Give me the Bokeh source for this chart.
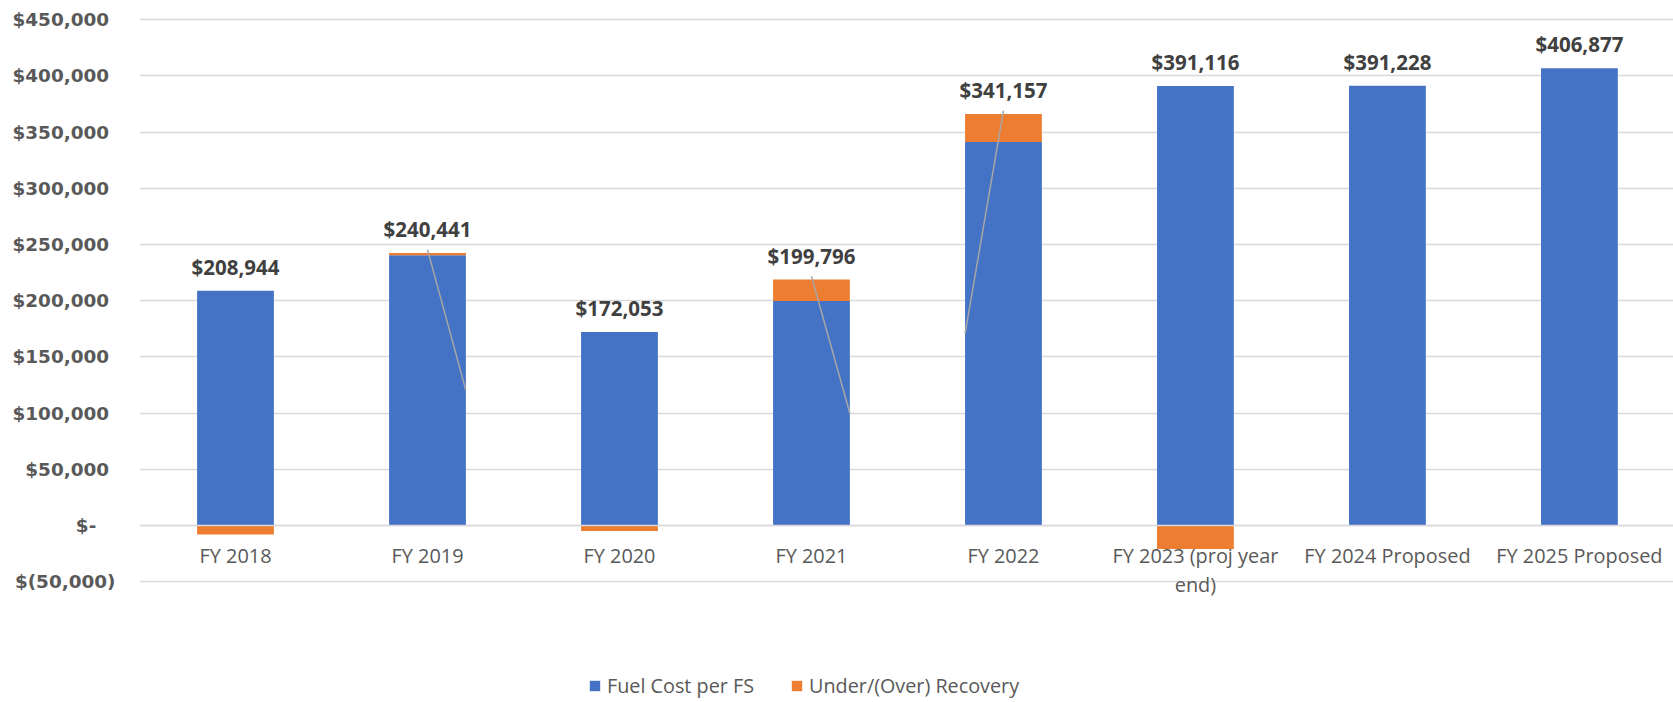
from bokeh.plotting import figure
from bokeh.models import Range1d, FixedTicker, Legend, LegendItem, Span
from bokeh.core.properties import value
from bokeh.embed import file_html
from bokeh.resources import INLINE

categories = ["FY 2018", "FY 2019", "FY 2020", "FY 2021", "FY 2022",
              "FY 2023 (proj year\nend)", "FY 2024 Proposed", "FY 2025 Proposed"]
fuel_cost = [208944, 240441, 172053, 199796, 341157, 391116, 391228, 406877]
recovery = [-8000, 2000, -5000, 19000, 25000, -21000, 0, 0]
value_labels = ["$208,944", "$240,441", "$172,053", "$199,796", "$341,157",
                "$391,116", "$391,228", "$406,877"]
y_ticks = [-50000, 0, 50000, 100000, 150000, 200000, 250000, 300000, 350000, 400000, 450000]
y_tick_labels = ["$(50,000)", "$-\u00a0\u00a0\u00a0", "$50,000\u00a0", "$100,000\u00a0",
                 "$150,000\u00a0", "$200,000\u00a0", "$250,000\u00a0", "$300,000\u00a0",
                 "$350,000\u00a0", "$400,000\u00a0", "$450,000\u00a0"]
leader_idx = [1, 3, 4]
leader_side = [1, 1, -1]

BLUE = "#4472C4"
ORANGE = "#ED7D31"
AXIS_FONT = "DejaVu Sans"
FONT = "Open Sans"

xs = [i + 0.5 for i in range(len(categories))]
orange_bottom = [f if r > 0 else 0 for f, r in zip(fuel_cost, recovery)]
orange_top = [f + r if r > 0 else r for f, r in zip(fuel_cost, recovery)]
stack_top = [max(f, f + r) for f, r in zip(fuel_cost, recovery)]

p = figure(width=1673, height=700, output_backend="svg", toolbar_location=None,
           x_range=Range1d(0, 7.99), y_range=Range1d(-155700, 467080),
           x_axis_location=None, min_border_left=139, min_border_right=0,
           min_border_top=0, min_border_bottom=0)
p.outline_line_color = None
p.xgrid.visible = False
p.ygrid.grid_line_color = "#D9D9D9"
p.ygrid.grid_line_width = 1.3
p.yaxis.ticker = FixedTicker(ticks=y_ticks)
p.yaxis.major_label_overrides = {t: l for t, l in zip(y_ticks, y_tick_labels)}
p.yaxis.axis_line_color = None
p.yaxis.major_tick_line_color = None
p.yaxis.minor_tick_line_color = None
p.yaxis.major_tick_out = 0
p.yaxis.major_tick_in = 0
p.yaxis.minor_tick_out = 0
p.yaxis.major_label_standoff = 24
p.yaxis.major_label_text_font = AXIS_FONT
p.yaxis.major_label_text_font_style = "bold"
p.yaxis.major_label_text_font_size = "18.4px"
p.yaxis.major_label_text_color = "#595959"

r_blue = p.vbar(x=xs, width=0.4, bottom=0, top=fuel_cost, fill_color=BLUE, line_color=None)
r_orange = p.vbar(x=xs, width=0.4, bottom=orange_bottom, top=orange_top,
                  fill_color=ORANGE, line_color=None)

zero = Span(location=0, dimension="width", line_color="#D9D9D9", line_width=1.3, level="glyph")
p.add_layout(zero)

# leader lines
lx0 = [xs[i] for i in leader_idx]
ly0 = [stack_top[i] + 3000 for i in leader_idx]
lx1 = [xs[i] + s * 0.2 for i, s in zip(leader_idx, leader_side)]
ly1 = [fuel_cost[i] / 2 for i in leader_idx]
p.segment(x0=lx0, y0=ly0, x1=lx1, y1=ly1, line_color="#A6A6A6", line_width=1.5)

# value labels
p.text(x=xs, y=stack_top, text=value_labels, text_align="center", text_baseline="middle",
       y_offset=-24, text_font=value(FONT), text_font_style="bold",
       text_font_size="20.5px", text_color="#404040")

# category labels
p.text(x=xs, y=[0] * len(xs), text=categories, text_align="center", text_baseline="top",
       y_offset=17, text_font=value(FONT), text_font_size="19.9px", text_color="#595959",
       text_line_height=1.05)

legend = Legend(items=[LegendItem(label="Fuel Cost per FS", renderers=[r_blue]),
                       LegendItem(label="Under/(Over) Recovery", renderers=[r_orange])],
                orientation="horizontal", location=(449, 1),
                background_fill_alpha=0, border_line_color=None, padding=0, margin=0,
                spacing=36, label_standoff=6, glyph_width=13, glyph_height=13,
                label_text_font=FONT, label_text_font_size="19.8px",
                label_text_color="#595959")
p.add_layout(legend)

open("out.html", "w").write(file_html(p, INLINE))
